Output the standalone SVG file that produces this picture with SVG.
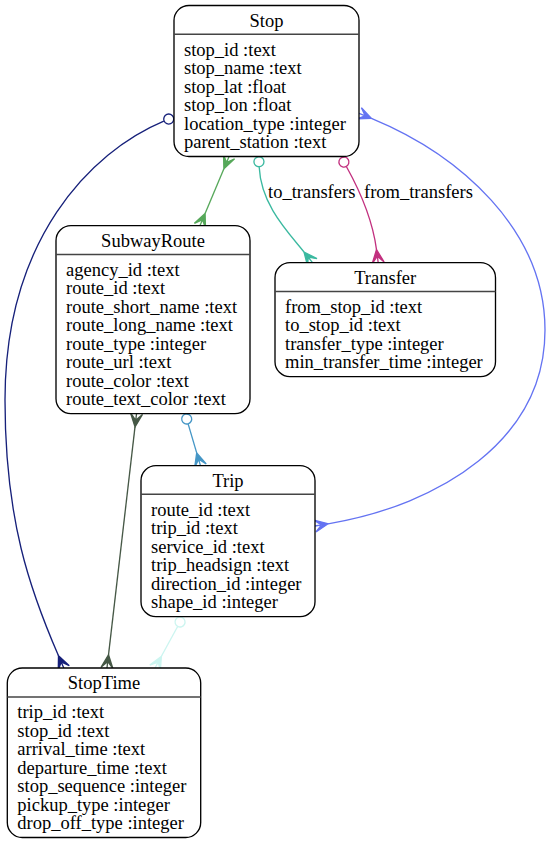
<svg xmlns="http://www.w3.org/2000/svg" width="551" height="845" viewBox="0 0 551 845">
  <style>
    text { font-family: "Liberation Serif", "Times New Roman", serif; font-size: 18.5px; fill: #000; }
    .title { text-anchor: middle; }
    .box { fill: #fff; stroke: #000; stroke-width: 1.33; }
    .rule { stroke: #444; stroke-width: 1.4; }
    .edge { fill: none; stroke-width: 1.33; }
  </style>
  <defs>
    <!-- crow's foot: origin at the line end, +x pointing into the entity -->
    <marker id="crow-green" markerUnits="userSpaceOnUse" orient="auto-start-reverse" overflow="visible" markerWidth="14" markerHeight="14">
      <polygon points="0,0 13.3,-6 6.67,0 13.3,0 6.67,0 13.3,6" fill="#56a85a" stroke="#56a85a" stroke-width="1.33"/>
    </marker>
    <marker id="crow-teal" markerUnits="userSpaceOnUse" orient="auto-start-reverse" overflow="visible" markerWidth="14" markerHeight="14">
      <polygon points="0,0 13.3,-6 6.67,0 13.3,0 6.67,0 13.3,6" fill="#3bb9a0" stroke="#3bb9a0" stroke-width="1.33"/>
    </marker>
    <marker id="crow-magenta" markerUnits="userSpaceOnUse" orient="auto-start-reverse" overflow="visible" markerWidth="14" markerHeight="14">
      <polygon points="0,0 13.3,-6 6.67,0 13.3,0 6.67,0 13.3,6" fill="#c2307f" stroke="#c2307f" stroke-width="1.33"/>
    </marker>
    <marker id="crow-navy" markerUnits="userSpaceOnUse" orient="auto-start-reverse" overflow="visible" markerWidth="14" markerHeight="14">
      <polygon points="0,0 13.3,-6 6.67,0 13.3,0 6.67,0 13.3,6" fill="#16207a" stroke="#16207a" stroke-width="1.33"/>
    </marker>
    <marker id="crow-blue" markerUnits="userSpaceOnUse" orient="auto-start-reverse" overflow="visible" markerWidth="14" markerHeight="14">
      <polygon points="0,0 13.3,-6 6.67,0 13.3,0 6.67,0 13.3,6" fill="#6473f2" stroke="#6473f2" stroke-width="1.33"/>
    </marker>
    <marker id="crow-olive" markerUnits="userSpaceOnUse" orient="auto-start-reverse" overflow="visible" markerWidth="14" markerHeight="14">
      <polygon points="0,0 13.3,-6 6.67,0 13.3,0 6.67,0 13.3,6" fill="#465846" stroke="#465846" stroke-width="1.33"/>
    </marker>
    <marker id="crow-steel" markerUnits="userSpaceOnUse" orient="auto-start-reverse" overflow="visible" markerWidth="14" markerHeight="14">
      <polygon points="0,0 13.3,-6 6.67,0 13.3,0 6.67,0 13.3,6" fill="#4596c6" stroke="#4596c6" stroke-width="1.33"/>
    </marker>
    <marker id="crow-cyan" markerUnits="userSpaceOnUse" orient="auto-start-reverse" overflow="visible" markerWidth="14" markerHeight="14">
      <polygon points="0,0 13.3,-6 6.67,0 13.3,0 6.67,0 13.3,6" fill="#ccf5f0" stroke="#ccf5f0" stroke-width="1.33"/>
    </marker>
    <!-- open circle (zero-or-one) -->
    <marker id="odot-teal" markerUnits="userSpaceOnUse" orient="auto-start-reverse" overflow="visible" markerWidth="12" markerHeight="12">
      <circle cx="5.33" cy="0" r="5" fill="none" stroke="#3bb9a0" stroke-width="1.33"/>
    </marker>
    <marker id="odot-magenta" markerUnits="userSpaceOnUse" orient="auto-start-reverse" overflow="visible" markerWidth="12" markerHeight="12">
      <circle cx="5.33" cy="0" r="5" fill="none" stroke="#c2307f" stroke-width="1.33"/>
    </marker>
    <marker id="odot-navy" markerUnits="userSpaceOnUse" orient="auto-start-reverse" overflow="visible" markerWidth="12" markerHeight="12">
      <circle cx="5.33" cy="0" r="5" fill="none" stroke="#16207a" stroke-width="1.33"/>
    </marker>
    <marker id="odot-steel" markerUnits="userSpaceOnUse" orient="auto-start-reverse" overflow="visible" markerWidth="12" markerHeight="12">
      <circle cx="5.33" cy="0" r="5" fill="none" stroke="#4596c6" stroke-width="1.33"/>
    </marker>
    <marker id="odot-cyan" markerUnits="userSpaceOnUse" orient="auto-start-reverse" overflow="visible" markerWidth="12" markerHeight="12">
      <circle cx="5.33" cy="0" r="5" fill="none" stroke="#ccf5f0" stroke-width="1.33"/>
    </marker>
  </defs>

  <rect width="551" height="845" fill="#fff"/>

  <!-- relationships -->
  <g id="edges">
    <path class="edge" stroke="#56a85a" d="M223.9,168.8 L205.1,213.4" marker-start="url(#crow-green)" marker-end="url(#crow-green)"/>
    <path class="edge" stroke="#3bb9a0" d="M259.2,167.1 C261,205 288,232 304,252" marker-start="url(#odot-teal)" marker-end="url(#crow-teal)"/>
    <text x="268" y="198">to_transfers</text>
    <path class="edge" stroke="#c2307f" d="M346.5,166.7 C355,182 372,215 376.5,249.6" marker-start="url(#odot-magenta)" marker-end="url(#crow-magenta)"/>
    <text x="364" y="197.5">from_transfers</text>
    <path class="edge" stroke="#16207a" d="M163.8,121.1 C90,152 5,240 5,400 C5,520 30,590 58.5,655.8" marker-start="url(#odot-navy)" marker-end="url(#crow-navy)"/>
    <path class="edge" stroke="#6473f2" d="M371.4,118.4 C460,155 545,230 545,330 C545,440 440,505 328.1,523.8" marker-start="url(#crow-blue)" marker-end="url(#crow-blue)"/>
    <path class="edge" stroke="#465846" d="M135,426.9 L108.5,654.8" marker-start="url(#crow-olive)" marker-end="url(#crow-olive)"/>
    <path class="edge" stroke="#4596c6" d="M188.2,424.1 L196.7,452.9" marker-start="url(#odot-steel)" marker-end="url(#crow-steel)"/>
    <path class="edge" stroke="#ccf5f0" d="M177.5,626.7 L161.4,656.3" marker-start="url(#odot-cyan)" marker-end="url(#crow-cyan)"/>
  </g>

  <g id="Stop">
    <rect class="box" x="174" y="5.5" width="185" height="151" rx="15"/>
    <line class="rule" x1="174" y1="34.3" x2="359" y2="34.3"/>
    <text class="title" x="266.5" y="26.5">Stop</text>
    <text x="184" y="55.5">stop_id :text</text>
    <text x="184" y="74">stop_name :text</text>
    <text x="184" y="92.5">stop_lat :float</text>
    <text x="184" y="111">stop_lon :float</text>
    <text x="184" y="129.5">location_type :integer</text>
    <text x="184" y="148">parent_station :text</text>
  </g>

  <g id="SubwayRoute">
    <rect class="box" x="56" y="225.7" width="194" height="188" rx="15"/>
    <line class="rule" x1="56" y1="254.5" x2="250" y2="254.5"/>
    <text class="title" x="153" y="247">SubwayRoute</text>
    <text x="66" y="275.7">agency_id :text</text>
    <text x="66" y="294.2">route_id :text</text>
    <text x="66" y="312.7">route_short_name :text</text>
    <text x="66" y="331.2">route_long_name :text</text>
    <text x="66" y="349.7">route_type :integer</text>
    <text x="66" y="368.2">route_url :text</text>
    <text x="66" y="386.7">route_color :text</text>
    <text x="66" y="405.2">route_text_color :text</text>
  </g>

  <g id="Transfer">
    <rect class="box" x="275" y="262.7" width="220.5" height="114" rx="15"/>
    <line class="rule" x1="275" y1="291.5" x2="495.5" y2="291.5"/>
    <text class="title" x="385.2" y="284">Transfer</text>
    <text x="285" y="312.7">from_stop_id :text</text>
    <text x="285" y="331.2">to_stop_id :text</text>
    <text x="285" y="349.7">transfer_type :integer</text>
    <text x="285" y="368.2">min_transfer_time :integer</text>
  </g>

  <g id="Trip">
    <rect class="box" x="141" y="465.7" width="174" height="151" rx="15"/>
    <line class="rule" x1="141" y1="494.3" x2="315" y2="494.3"/>
    <text class="title" x="228" y="486.7">Trip</text>
    <text x="151" y="515.7">route_id :text</text>
    <text x="151" y="534.2">trip_id :text</text>
    <text x="151" y="552.7">service_id :text</text>
    <text x="151" y="571.2">trip_headsign :text</text>
    <text x="151" y="589.7">direction_id :integer</text>
    <text x="151" y="608.2">shape_id :integer</text>
  </g>

  <g id="StopTime">
    <rect class="box" x="7.3" y="668" width="193.4" height="169.5" rx="15"/>
    <line class="rule" x1="7.3" y1="697" x2="200.7" y2="697"/>
    <text class="title" x="104" y="689.3">StopTime</text>
    <text x="17.3" y="718.3">trip_id :text</text>
    <text x="17.3" y="736.8">stop_id :text</text>
    <text x="17.3" y="755.3">arrival_time :text</text>
    <text x="17.3" y="773.8">departure_time :text</text>
    <text x="17.3" y="792.3">stop_sequence :integer</text>
    <text x="17.3" y="810.8">pickup_type :integer</text>
    <text x="17.3" y="829.3">drop_off_type :integer</text>
  </g>
</svg>
